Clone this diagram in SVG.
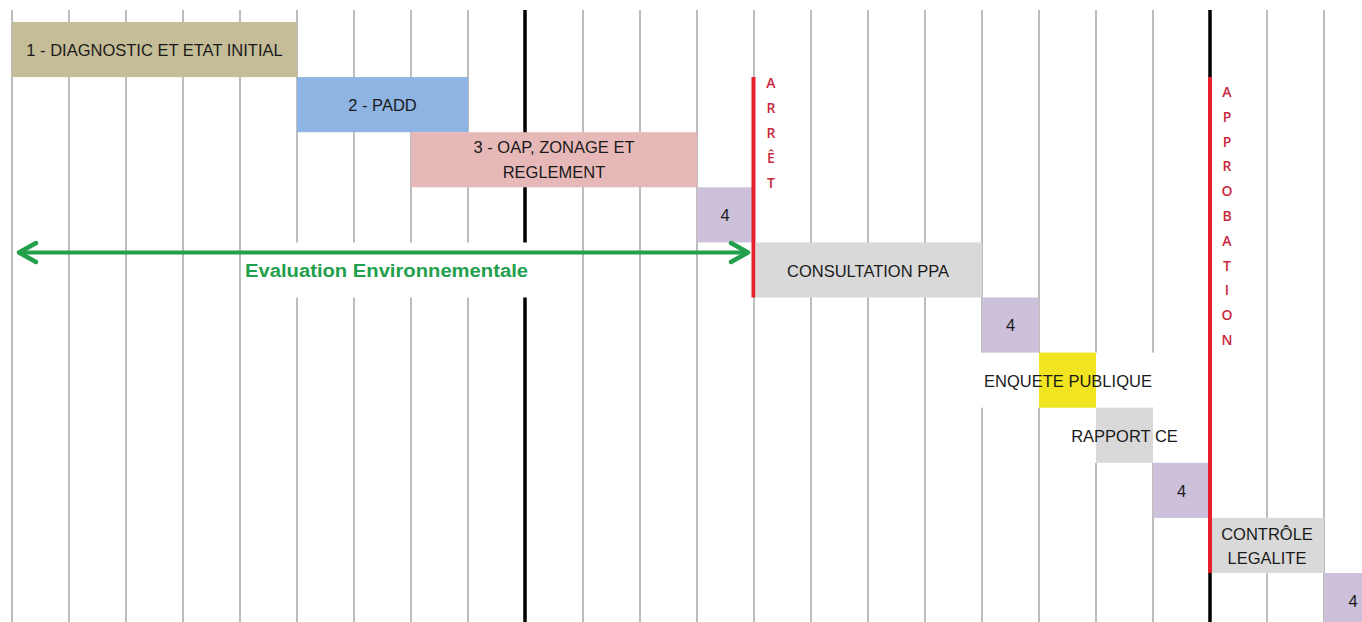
<svg xmlns="http://www.w3.org/2000/svg" width="1362" height="622" viewBox="0 0 1362 622">
<style>
.grid{stroke:#bdbdbd;stroke-width:2}
.blk{stroke:#000;stroke-width:3.5}
.red{stroke:#e3202b;stroke-width:4}
.t{font-family:"Liberation Sans",Arial,sans-serif;font-size:16.5px;fill:#1a1a1a;text-anchor:middle}
.rt{font-family:"Open Sans","Liberation Sans",sans-serif;font-size:14px;font-weight:600;fill:#c8283c;text-anchor:middle}
.g{font-family:"Liberation Sans",Arial,sans-serif;font-size:18px;font-weight:bold;fill:#22a04b;text-anchor:middle}
.mask{fill:#fff}
</style>
<rect width="1362" height="622" fill="#fff"/>
<g id="grid">
<path class="grid" d="M12 10V622M69 10V622M126 10V622M183 10V622M240 10V622M297 10V622M354 10V622M411 10V622M468 10V622M583 10V622M640 10V622M697 10V622M754 10V622M811 10V622M868 10V622M925 10V622M982 10V622M1039 10V622M1096 10V622M1153 10V622M1267 10V622M1324 10V622"/>
<path class="blk" d="M525 10V622M1210 10V622"/>
</g>
<g id="masks">
<rect class="mask" x="244" y="242.5" width="300" height="55"/>
<rect class="mask" x="972" y="352.6" width="190" height="55.1"/>
<rect class="mask" x="1045" y="407.7" width="155" height="55.1"/>
</g>
<g id="n1"><rect x="12" y="22" width="285" height="55.1" fill="#c4bd97"/><text class="t" x="154.5" y="56">1 - DIAGNOSTIC ET ETAT INITIAL</text></g>
<g id="n2"><rect x="297" y="77.1" width="171" height="55.1" fill="#8db4e2"/><text class="t" x="382.5" y="111">2 - PADD</text></g>
<g id="n3"><rect x="411" y="132.2" width="286" height="55.1" fill="#e6b9b8"/><text class="t" x="554" y="153">3 - OAP, ZONAGE ET</text><text class="t" x="554" y="178">REGLEMENT</text></g>
<g id="n4a"><rect x="697" y="187.3" width="57" height="55.1" fill="#ccc0da"/><text class="t" x="725" y="221">4</text></g>
<g id="arret"><path class="red" d="M753.5 77V297.5"/>
<text class="rt" x="771" y="88">A</text><text class="rt" x="771" y="113">R</text><text class="rt" x="771" y="138">R</text><text class="rt" x="771" y="163">Ê</text><text class="rt" x="771" y="188">T</text></g>
<g id="n5"><rect x="755.5" y="242.4" width="226.5" height="55.1" fill="#d9d9d9"/><text class="t" x="868" y="277">CONSULTATION PPA</text></g>
<g id="n4b"><rect x="982" y="297.5" width="57" height="55.1" fill="#ccc0da"/><text class="t" x="1010.5" y="331">4</text></g>
<g id="n6"><rect x="1039" y="352.6" width="57" height="55.1" fill="#f0e520"/><text class="t" x="1068" y="387">ENQUETE PUBLIQUE</text></g>
<g id="n7"><rect x="1096" y="407.7" width="57" height="55.1" fill="#d9d9d9"/><text class="t" x="1124.5" y="442">RAPPORT CE</text></g>
<g id="n4c"><rect x="1153" y="462.8" width="57" height="55.1" fill="#ccc0da"/><text class="t" x="1181.5" y="497">4</text></g>
<g id="approbation"><path class="red" d="M1210 77V573"/>
<text class="rt" x="1227" y="97">A</text><text class="rt" x="1227" y="122">P</text><text class="rt" x="1227" y="147">P</text><text class="rt" x="1227" y="171">R</text><text class="rt" x="1227" y="196">O</text><text class="rt" x="1227" y="221">B</text><text class="rt" x="1227" y="246">A</text><text class="rt" x="1227" y="271">T</text><text class="rt" x="1227" y="295">I</text><text class="rt" x="1227" y="320">O</text><text class="rt" x="1227" y="345">N</text></g>
<g id="n8"><rect x="1212" y="517.9" width="112" height="55.1" fill="#d9d9d9"/><text class="t" x="1267" y="540">CONTRÔLE</text><text class="t" x="1267" y="564">LEGALITE</text></g>
<g id="n4d"><rect x="1324" y="573" width="40" height="55" fill="#ccc0da"/><text class="t" x="1353" y="607">4</text></g>
<g id="connectors">
<path d="M19 252.5H748" stroke="#22a04b" stroke-width="4" fill="none"/>
<path d="M36 243L19 252.5L36 262M731 243L748 252.5L731 262" stroke="#22a04b" stroke-width="4.5" fill="none" stroke-linecap="round" stroke-linejoin="round"/>
<text class="g" x="386.5" y="277" textLength="283" lengthAdjust="spacingAndGlyphs">Evaluation Environnementale</text>
</g>
</svg>
